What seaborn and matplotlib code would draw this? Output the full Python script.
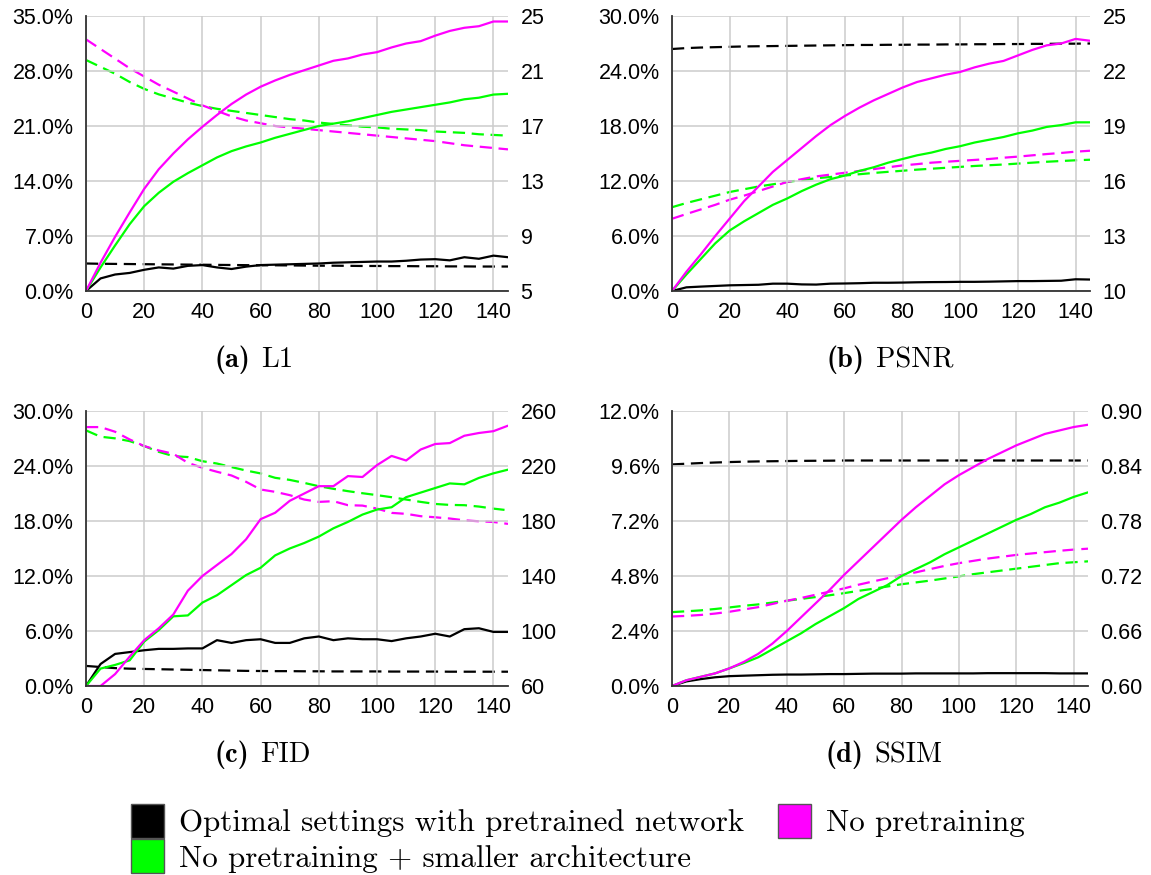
import numpy as np
import pandas as pd
import matplotlib
matplotlib.use("Agg")
import matplotlib.pyplot as plt
from matplotlib.patches import Patch
from matplotlib.ticker import FuncFormatter
import seaborn as sns

# ---------------- data ----------------
epochs = list(range(0, 150, 5))

series_names = ["Optimal settings with pretrained network",
                "No pretraining + smaller architecture",
                "No pretraining"]
series_colors = ["#000000", "#00ff00", "#ff00ff"]

# (a) L1
l1_pct_opt = [0, 1.6, 2.1, 2.3, 2.7, 3.0, 2.85, 3.2, 3.3, 3.0, 2.8, 3.1, 3.3, 3.35, 3.4,
              3.45, 3.5, 3.6, 3.65, 3.7, 3.75, 3.75, 3.85, 4.0, 4.05, 3.9, 4.3, 4.1, 4.5, 4.3]
l1_pct_small = [0, 3.0, 5.8, 8.5, 10.8, 12.5, 13.9, 15.0, 16.0, 17.0, 17.8, 18.4, 18.9, 19.5, 20.0,
                20.5, 21.0, 21.3, 21.6, 22.0, 22.4, 22.8, 23.1, 23.4, 23.7, 24.0, 24.4, 24.6, 25.0, 25.1]
l1_pct_nopre = [0, 3.6, 6.9, 10.0, 13.0, 15.5, 17.5, 19.3, 20.9, 22.4, 23.8, 25.0, 26.0, 26.8, 27.5,
                28.1, 28.7, 29.3, 29.6, 30.1, 30.4, 31.0, 31.5, 31.8, 32.5, 33.1, 33.5, 33.7, 34.3, 34.3]
l1_val_opt = [7.0, 6.98, 6.97, 6.96, 6.95, 6.94, 6.93, 6.92, 6.91, 6.90, 6.89, 6.88, 6.87, 6.87, 6.86,
              6.85, 6.84, 6.84, 6.83, 6.82, 6.82, 6.81, 6.81, 6.80, 6.80, 6.79, 6.79, 6.78, 6.78, 6.78]
l1_val_small = [21.8, 21.3, 20.8, 20.2, 19.7, 19.3, 19.0, 18.7, 18.45, 18.25, 18.1, 17.95, 17.8, 17.65, 17.5,
                17.4, 17.25, 17.15, 17.05, 16.95, 16.9, 16.8, 16.75, 16.7, 16.6, 16.55, 16.5, 16.4, 16.35, 16.3]
l1_val_nopre = [23.3, 22.6, 21.9, 21.2, 20.6, 20.0, 19.5, 19.0, 18.5, 18.1, 17.7, 17.4, 17.2, 17.0, 16.9,
                16.8, 16.7, 16.6, 16.5, 16.4, 16.3, 16.2, 16.1, 16.0, 15.9, 15.75, 15.6, 15.5, 15.4, 15.3]

# (b) PSNR
psnr_pct_opt = [0, 0.4, 0.48, 0.55, 0.62, 0.65, 0.68, 0.8, 0.8, 0.72, 0.7, 0.8, 0.82, 0.85, 0.9,
                0.9, 0.92, 0.95, 0.97, 0.98, 1.0, 1.0, 1.02, 1.05, 1.08, 1.08, 1.1, 1.12, 1.28, 1.25]
psnr_pct_small = [0, 1.8, 3.5, 5.2, 6.6, 7.6, 8.5, 9.4, 10.1, 10.9, 11.6, 12.2, 12.6, 13.1, 13.5,
                  14.0, 14.4, 14.8, 15.1, 15.5, 15.8, 16.2, 16.5, 16.8, 17.2, 17.5, 17.9, 18.1, 18.4, 18.4]
psnr_pct_nopre = [0, 2.1, 4.0, 6.0, 7.9, 9.8, 11.4, 13.0, 14.3, 15.6, 16.9, 18.1, 19.1, 20.0, 20.8,
                  21.5, 22.2, 22.8, 23.2, 23.6, 23.9, 24.4, 24.8, 25.1, 25.7, 26.3, 26.8, 27.0, 27.5, 27.3]
psnr_val_opt = [23.2, 23.25, 23.28, 23.3, 23.32, 23.34, 23.35, 23.36, 23.37, 23.38, 23.39, 23.4, 23.41, 23.42, 23.42,
                23.43, 23.43, 23.44, 23.44, 23.45, 23.45, 23.46, 23.46, 23.47, 23.47, 23.48, 23.48, 23.49, 23.49, 23.5]
psnr_val_small = [14.57, 14.8, 15.0, 15.2, 15.4, 15.55, 15.7, 15.82, 15.95, 16.05, 16.15, 16.22, 16.3, 16.37, 16.44,
                  16.5, 16.56, 16.62, 16.67, 16.72, 16.77, 16.82, 16.86, 16.9, 16.95, 17.0, 17.05, 17.09, 17.13, 17.16]
psnr_val_nopre = [13.94, 14.2, 14.45, 14.7, 14.98, 15.2, 15.45, 15.7, 15.95, 16.1, 16.25, 16.35, 16.45, 16.55, 16.65,
                  16.75, 16.85, 16.92, 17.0, 17.05, 17.1, 17.15, 17.2, 17.27, 17.33, 17.4, 17.47, 17.53, 17.6, 17.65]

# (c) FID
fid_pct_opt = [0, 2.4, 3.5, 3.7, 3.9, 4.05, 4.05, 4.1, 4.1, 5.0, 4.7, 5.0, 5.1, 4.7, 4.7,
               5.2, 5.4, 5.0, 5.2, 5.1, 5.1, 4.9, 5.2, 5.4, 5.7, 5.4, 6.2, 6.3, 5.9, 5.9]
fid_pct_small = [0, 1.9, 2.3, 2.8, 4.85, 6.1, 7.6, 7.7, 9.1, 9.9, 11.0, 12.1, 12.9, 14.25, 15.0,
                 15.6, 16.3, 17.2, 17.9, 18.7, 19.25, 19.5, 20.6, 21.1, 21.6, 22.1, 22.0, 22.7, 23.2, 23.6]
fid_pct_nopre = [0, 0.0, 1.3, 3.2, 5.0, 6.3, 7.8, 10.4, 12.0, 13.2, 14.4, 16.0, 18.2, 18.9, 20.2,
                 21.0, 21.8, 21.8, 22.9, 22.8, 24.1, 25.1, 24.6, 25.8, 26.4, 26.5, 27.3, 27.6, 27.8, 28.4]
fid_val_opt = [74.6, 73.8, 73.0, 72.6, 72.4, 72.2, 72.0, 71.8, 71.6, 71.4, 71.2, 71.0, 70.9, 70.8, 70.8,
               70.7, 70.7, 70.6, 70.6, 70.6, 70.6, 70.5, 70.5, 70.5, 70.5, 70.4, 70.4, 70.4, 70.4, 70.4]
fid_val_small = [245.9, 241.3, 240.1, 238.1, 234.5, 230.3, 227.2, 226.5, 223.5, 221.8, 219.2, 216.7, 214.6, 211.4, 209.9,
                 207.7, 205.3, 203.4, 201.7, 200.2, 198.8, 197.3, 195.6, 193.9, 192.4, 191.7, 191.5, 190.5, 189.0, 187.8]
fid_val_nopre = [248.3, 248.3, 244.9, 239.3, 234.5, 231.3, 228.9, 222.3, 218.7, 215.8, 213.1, 208.5, 202.9, 201.2, 198.8,
                 195.6, 193.9, 194.4, 191.5, 191.2, 189.0, 185.9, 185.2, 183.5, 182.7, 181.8, 180.5, 179.8, 179.3, 177.9]

# (d) SSIM
ssim_pct_opt = [0, 0.2, 0.3, 0.38, 0.43, 0.45, 0.47, 0.49, 0.5, 0.5, 0.51, 0.52, 0.52, 0.53, 0.54,
                0.54, 0.54, 0.55, 0.55, 0.55, 0.55, 0.55, 0.56, 0.56, 0.56, 0.56, 0.56, 0.55, 0.55, 0.55]
ssim_pct_small = [0, 0.25, 0.4, 0.55, 0.77, 1.0, 1.25, 1.6, 1.95, 2.3, 2.7, 3.05, 3.4, 3.8, 4.1,
                  4.4, 4.8, 5.1, 5.4, 5.75, 6.05, 6.35, 6.65, 6.95, 7.25, 7.5, 7.8, 8.0, 8.25, 8.45]
ssim_pct_nopre = [0, 0.25, 0.4, 0.55, 0.77, 1.05, 1.4, 1.85, 2.4, 3.0, 3.6, 4.2, 4.85, 5.45, 6.05,
                  6.65, 7.25, 7.8, 8.3, 8.8, 9.2, 9.55, 9.9, 10.2, 10.5, 10.75, 11.0, 11.15, 11.3, 11.4]
ssim_val_opt = [0.8417, 0.8425, 0.8432, 0.8438, 0.8443, 0.8447, 0.845, 0.8452, 0.8454, 0.8456, 0.8457, 0.8458,
                0.846, 0.846, 0.846, 0.846, 0.846, 0.846, 0.846, 0.846, 0.846, 0.846, 0.846, 0.846, 0.846,
                0.846, 0.846, 0.846, 0.846, 0.846]
ssim_val_small = [0.6806, 0.6815, 0.6825, 0.684, 0.6857, 0.6875, 0.689, 0.691, 0.693, 0.695, 0.697, 0.699, 0.7013,
                  0.7038, 0.706, 0.7085, 0.711, 0.713, 0.715, 0.7173, 0.7196, 0.722, 0.724, 0.726, 0.728, 0.730,
                  0.732, 0.734, 0.735, 0.736]
ssim_val_nopre = [0.6758, 0.6765, 0.6775, 0.679, 0.681, 0.6835, 0.686, 0.6895, 0.693, 0.696, 0.6995, 0.703, 0.7065,
                  0.7105, 0.714, 0.7175, 0.721, 0.724, 0.7275, 0.731, 0.734, 0.7365, 0.739, 0.741, 0.743, 0.7445,
                  0.746, 0.7475, 0.7488, 0.7498]

panel_captions = [("(a)", "L1"), ("(b)", "PSNR"), ("(c)", "FID"), ("(d)", "SSIM")]
x_ticks = [0, 20, 40, 60, 80, 100, 120, 140]
left_ticks = [[0, 7, 14, 21, 28, 35], [0, 6, 12, 18, 24, 30], [0, 6, 12, 18, 24, 30],
              [0, 2.4, 4.8, 7.2, 9.6, 12.0]]
right_ticks = [[5, 9, 13, 17, 21, 25], [10, 13, 16, 19, 22, 25], [60, 100, 140, 180, 220, 260],
               [0.60, 0.66, 0.72, 0.78, 0.84, 0.90]]
right_fmt = ["{:.0f}", "{:.0f}", "{:.0f}", "{:.2f}"]

pct_data = [[l1_pct_opt, l1_pct_small, l1_pct_nopre],
            [psnr_pct_opt, psnr_pct_small, psnr_pct_nopre],
            [fid_pct_opt, fid_pct_small, fid_pct_nopre],
            [ssim_pct_opt, ssim_pct_small, ssim_pct_nopre]]
val_data = [[l1_val_opt, l1_val_small, l1_val_nopre],
            [psnr_val_opt, psnr_val_small, psnr_val_nopre],
            [fid_val_opt, fid_val_small, fid_val_nopre],
            [ssim_val_opt, ssim_val_small, ssim_val_nopre]]

# ---------------- style ----------------
sns.set_theme(style="white")
plt.rcParams["font.family"] = ["Liberation Sans", "DejaVu Sans"]
plt.rcParams["text.color"] = "black"

W, H = 1151, 875
fig = plt.figure(figsize=(W / 100, H / 100), dpi=100)

# axes boxes in pixels: (left, top, right, bottom)
boxes = [(86, 16, 508, 291), (672, 16, 1090, 291), (86, 411, 508, 686), (672, 411, 1088, 686)]
caption_pos = [(257, 360), (871, 360), (256, 755), (870, 755)]

for i, (l, t, r, b) in enumerate(boxes):
    ax = fig.add_axes([l / W, 1 - b / H, (r - l) / W, (b - t) / H])
    ax2 = ax.twinx()
    for s_i in range(3):
        df = pd.DataFrame({"epoch": epochs, "pct": pct_data[i][s_i], "val": val_data[i][s_i]})
        sns.lineplot(data=df, x="epoch", y="pct", ax=ax, color=series_colors[s_i], lw=1.6)
        sns.lineplot(data=df, x="epoch", y="val", ax=ax2, color=series_colors[s_i], lw=1.6,
                     linestyle=(0, (5.5, 3)))
    ax.set_xlim(0, 145)
    ax.set_ylim(left_ticks[i][0], left_ticks[i][-1])
    ax2.set_ylim(right_ticks[i][0], right_ticks[i][-1])
    ax.set_xticks(x_ticks)
    ax.set_yticks(left_ticks[i])
    ax2.set_yticks(right_ticks[i])
    ax.yaxis.set_major_formatter(FuncFormatter(lambda v, p: f"{v:.1f}%"))
    fmt = right_fmt[i]
    ax2.yaxis.set_major_formatter(FuncFormatter(lambda v, p, fmt=fmt: fmt.format(v)))
    ax.set_xlabel("")
    ax.set_ylabel("")
    ax2.set_ylabel("")
    ax.grid(True, color="#cccccc", lw=1.1)
    ax2.grid(False)
    for sp in ["top", "right"]:
        ax.spines[sp].set_visible(False)
    for sp in ax2.spines.values():
        sp.set_visible(False)
    ax.spines["left"].set_color("#333333")
    ax.spines["bottom"].set_color("#333333")
    ax.spines["left"].set_linewidth(1.3)
    ax.spines["bottom"].set_linewidth(1.3)
    ax.set_zorder(ax2.get_zorder() + 1)
    ax.patch.set_visible(False)
    ax.tick_params(axis="both", length=0, labelsize=15.5, colors="black")
    ax.tick_params(axis="y", pad=9)
    ax.tick_params(axis="x", pad=8)
    ax2.tick_params(axis="y", length=0, labelsize=15.5, pad=9, colors="black")

    cx, cy = caption_pos[i]
    lab, name = panel_captions[i]
    fig.text(cx / W - 0.006, 1 - cy / H, lab, family="cmb10", fontsize=20.5,
             ha="right", va="center", color="black")
    fig.text(cx / W + 0.004, 1 - cy / H, name, family="cmr10", fontsize=20.5,
             ha="left", va="center", color="black")

handles = [Patch(facecolor=series_colors[k], edgecolor="#555555", lw=1.0) for k in range(3)]
leg = fig.legend(handles, series_names, loc="upper left", bbox_to_anchor=(131 / W, 1 - 804 / H),
                 ncol=2, frameon=False, prop={"family": "cmr10", "size": 22.3},
                 handlelength=1.05, handleheight=1.3, handletextpad=0.5, columnspacing=1.1,
                 labelspacing=0.05, borderaxespad=0, borderpad=0)
for t in leg.get_texts():
    t.set_color("black")

fig.savefig("out.png", dpi=100)
